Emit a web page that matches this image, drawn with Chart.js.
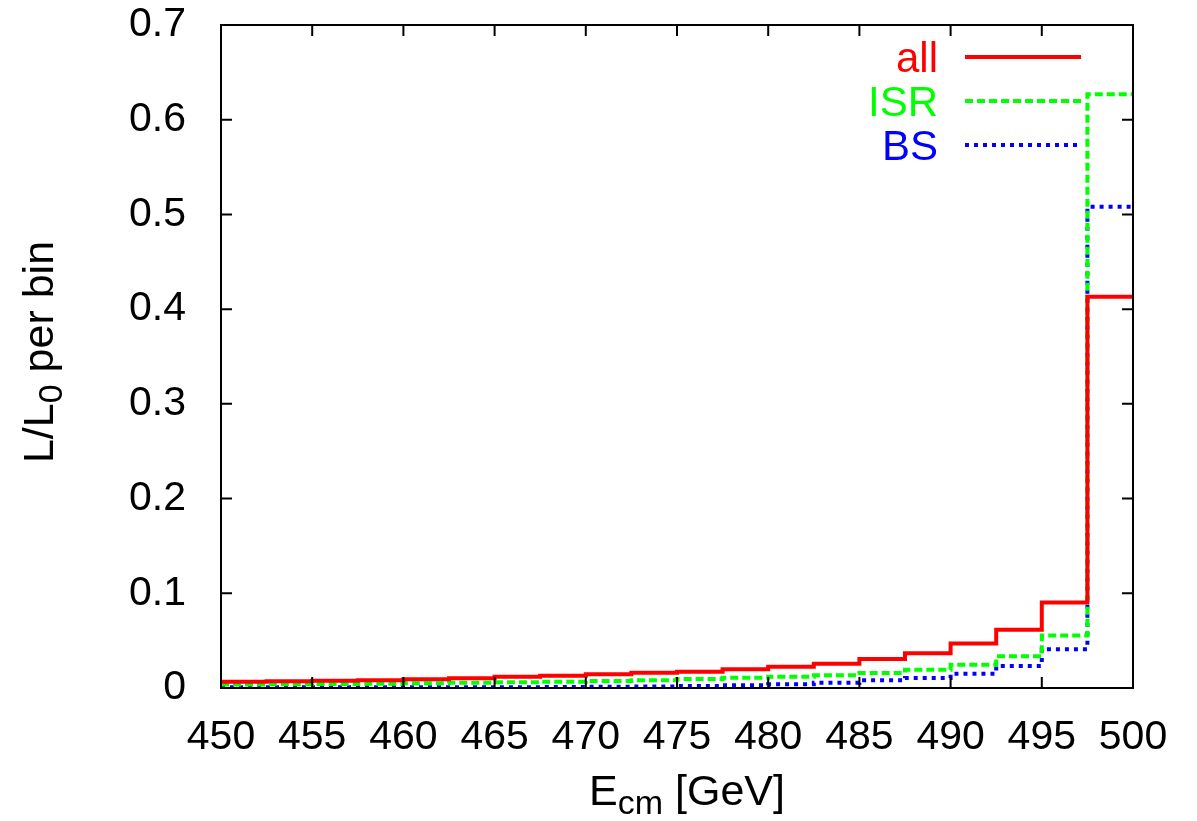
<!DOCTYPE html>
<html>
<head>
<meta charset="utf-8">
<script src="https://cdn.jsdelivr.net/npm/chart.js"></script>
<style>
    html, body { margin: 0; padding: 0; background: #fff; }
    #wrap { width: 1197px; height: 821px; }
</style>
</head>
<body>
<div id="wrap"><canvas id="lumiChart" width="1197" height="821"></canvas></div>
<script>
// bin left edges in GeV (bin width 2.5), last edge closes the histogram
const binEdges = [450, 452.5, 455, 457.5, 460, 462.5, 465, 467.5, 470, 472.5,
                  475, 477.5, 480, 482.5, 485, 487.5, 490, 492.5, 495, 497.5, 500];

// L/L0 per bin
const allValues = [0.0067, 0.0072, 0.0077, 0.0082, 0.0092, 0.0102, 0.0119, 0.013, 0.0145, 0.0162,
                   0.0172, 0.0197, 0.0225, 0.0257, 0.0306, 0.0366, 0.047, 0.0616, 0.0904, 0.413];
const isrValues = [0.0038, 0.004, 0.0042, 0.0045, 0.005, 0.0056, 0.006, 0.0067, 0.0074, 0.0081,
                   0.0095, 0.0109, 0.0119, 0.0134, 0.0158, 0.0193, 0.0246, 0.0334, 0.0553, 0.627];
const bsValues  = [0.0008, 0.0008, 0.0008, 0.0008, 0.0008, 0.0008, 0.0009, 0.001, 0.0012, 0.0015,
                   0.002, 0.0029, 0.0039, 0.0056, 0.0081, 0.0106, 0.0151, 0.0232, 0.041, 0.508];

const seriesNames = ['all', 'ISR', 'BS'];
const xTicks = [450, 455, 460, 465, 470, 475, 480, 485, 490, 495, 500];
const yTicks = [0, 0.1, 0.2, 0.3, 0.4, 0.5, 0.6, 0.7];

const FONT = '"Liberation Sans", Arial, Helvetica, sans-serif';

// histogram steps: one point per left edge, plus the closing edge
function toSteps(values) {
    const pts = values.map((v, i) => ({ x: binEdges[i], y: v }));
    pts.push({ x: binEdges[binEdges.length - 1], y: values[values.length - 1] });
    return pts;
}

// gnuplot-like frame, inward ticks, axis titles with subscripts, legend
const framePlugin = {
    id: 'frame',
    afterDatasetsDraw(chart) {
        const ctx = chart.ctx;
        const a = chart.chartArea;
        const xs = chart.scales.x, ys = chart.scales.y;
        ctx.save();
        ctx.strokeStyle = '#000';
        ctx.lineWidth = 2;
        ctx.strokeRect(a.left, a.top, a.right - a.left, a.bottom - a.top);
        const tl = 11;
        ctx.beginPath();
        xTicks.forEach(v => {
            const px = xs.getPixelForValue(v);
            ctx.moveTo(px, a.bottom); ctx.lineTo(px, a.bottom - tl);
            ctx.moveTo(px, a.top); ctx.lineTo(px, a.top + tl);
        });
        yTicks.forEach(v => {
            const py = ys.getPixelForValue(v);
            ctx.moveTo(a.left, py); ctx.lineTo(a.left + tl, py);
            ctx.moveTo(a.right, py); ctx.lineTo(a.right - tl, py);
        });
        ctx.stroke();

        // legend, text right aligned then line sample
        ctx.font = '42px ' + FONT;
        ctx.textAlign = 'right';
        ctx.textBaseline = 'alphabetic';
        chart.data.datasets.forEach((ds, i) => {
            const y = 57 + i * 44;
            ctx.fillStyle = ds.borderColor;
            ctx.fillText(ds.label, 938, y + 15);
            ctx.strokeStyle = ds.borderColor;
            ctx.lineWidth = ds.borderWidth;
            ctx.setLineDash(ds.borderDash || []);
            ctx.beginPath();
            ctx.moveTo(965, y);
            ctx.lineTo(1081, y);
            ctx.stroke();
        });
        ctx.setLineDash([]);

        // axis titles
        ctx.fillStyle = '#000';
        ctx.textAlign = 'left';
        const big = '43px ' + FONT, small = '34px ' + FONT;
        function runWidth(parts) {
            let w = 0;
            parts.forEach(p => { ctx.font = p.sub ? small : big; w += ctx.measureText(p.t).width; });
            return w;
        }
        function drawRun(parts, x, y) {
            parts.forEach(p => {
                ctx.font = p.sub ? small : big;
                ctx.fillText(p.t, x, p.sub ? y + 9 : y);
                x += ctx.measureText(p.t).width;
            });
        }
        const xTitle = [{ t: 'E' }, { t: 'cm', sub: true }, { t: ' [GeV]' }];
        drawRun(xTitle, 687 - runWidth(xTitle) / 2, 805);

        const yTitle = [{ t: 'L/L' }, { t: '0', sub: true }, { t: ' per bin' }];
        ctx.translate(53, 352);
        ctx.rotate(-Math.PI / 2);
        drawRun(yTitle, -runWidth(yTitle) / 2, 0);
        ctx.restore();
    }
};

new Chart(document.getElementById('lumiChart'), {
    type: 'line',
    data: {
        datasets: [
            { label: seriesNames[0], data: toSteps(allValues), borderColor: '#ff0000', borderWidth: 4, stepped: 'before' },
            { label: seriesNames[1], data: toSteps(isrValues), borderColor: '#00ff00', borderWidth: 4, borderDash: [8, 4], stepped: 'before' },
            { label: seriesNames[2], data: toSteps(bsValues), borderColor: '#0000ff', borderWidth: 4, borderDash: [4, 5], stepped: 'before' }
        ]
    },
    options: {
        responsive: false,
        animation: false,
        layout: { padding: { top: 25, right: 64, left: 0, bottom: 0 } },
        elements: { point: { radius: 0 }, line: { tension: 0, borderCapStyle: 'butt' } },
        plugins: { legend: { display: false }, tooltip: { enabled: false } },
        scales: {
            x: {
                type: 'linear',
                min: 450, max: 500,
                afterBuildTicks: s => { s.ticks = xTicks.map(v => ({ value: v })); },
                afterFit: s => { s.height = 133; s.paddingLeft = 0; s.paddingRight = 0; },
                grid: { display: false },
                border: { display: false },
                ticks: { color: '#000', padding: 17, font: { size: 41, family: FONT } }
            },
            y: {
                min: 0, max: 0.7,
                afterBuildTicks: s => { s.ticks = yTicks.map(v => ({ value: v })); },
                afterFit: s => { s.width = 221; s.paddingTop = 0; s.paddingBottom = 0; },
                grid: { display: false },
                border: { display: false },
                ticks: { color: '#000', padding: 27, font: { size: 41, family: FONT },
                         callback: v => String(Math.round(v * 10) / 10) }
            }
        }
    },
    plugins: [framePlugin]
});
</script>
</body>
</html>
